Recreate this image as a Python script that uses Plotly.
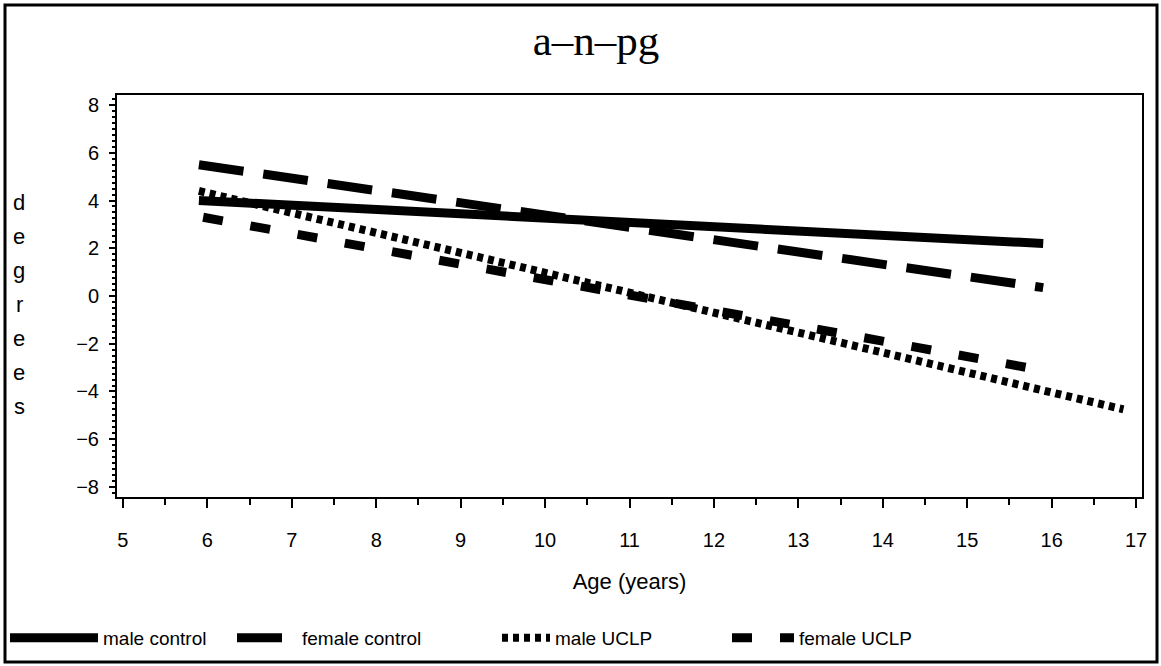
import plotly.graph_objects as go

# ---- data ----
series_names = ["male control", "female control", "male UCLP", "female UCLP"]
age_male_control = [5.9, 15.9]
deg_male_control = [4.0, 2.2]
age_female_control = [5.9, 15.9]
deg_female_control = [5.5, 0.35]
age_male_uclp = [5.9, 16.85]
deg_male_uclp = [4.4, -4.75]
age_female_uclp = [5.95, 15.95]
deg_female_uclp = [3.3, -3.15]

x_ticks = [5, 6, 7, 8, 9, 10, 11, 12, 13, 14, 15, 16, 17]
y_ticks = [-8, -6, -4, -2, 0, 2, 4, 6, 8]

# ---- layout geometry ----
W, H = 1161, 666
L, R, T, B = 117, 19, 95, 169
pw, ph = W - L - R, H - T - B

def px_x(px):
    return (px - L) / pw

def px_y(py):
    return (H - B - py) / ph

SANS = "Liberation Sans Narrow, Liberation Sans, Arial"
tickfont = dict(family=SANS, size=20, color="black")
legfont = dict(family=SANS, size=19, color="black")

fig = go.Figure()
styles = [
    dict(width=9, dash="solid"),
    dict(width=9, dash="45px,20px"),
    dict(width=8, dash="6px,5px"),
    dict(width=9, dash="20px,28px"),
]
data = [
    (age_male_control, deg_male_control),
    (age_female_control, deg_female_control),
    (age_male_uclp, deg_male_uclp),
    (age_female_uclp, deg_female_uclp),
]
legend_ids = ["legend", "legend2", "legend3", "legend4"]
legend_pos = [(5, 88), (232, 60), (497, 48), (727, 62)]  # (left px, sample width px)

for name, (xs, ys), st, lid in zip(series_names, data, styles, legend_ids):
    fig.add_trace(go.Scatter(x=xs, y=ys, mode="lines", name=name, legend=lid,
                             line=dict(color="black", **st)))

legends = {}
for lid, (lx, iw) in zip(legend_ids, legend_pos):
    legends[lid] = dict(orientation="h", x=px_x(lx), xanchor="left", y=px_y(638),
                        yanchor="middle", font=legfont, bgcolor="rgba(0,0,0,0)",
                        itemwidth=iw)

fig.update_layout(
    width=W, height=H,
    margin=dict(l=L, r=R, t=T, b=B, autoexpand=False),
    paper_bgcolor="white", plot_bgcolor="white",
    title=dict(text="a\u2013n\u2013pg", x=596 / W, xref="container", xanchor="center",
               y=1 - 40 / H, yref="container", yanchor="middle",
               font=dict(family="Liberation Serif, Times New Roman", size=43, color="black")),
    xaxis=dict(range=[4.93, 17.07], tickvals=x_ticks, ticks="outside", ticklen=9,
               tickwidth=2, tickcolor="black", showline=True, linecolor="black",
               linewidth=2, mirror=True, showgrid=False, zeroline=False,
               tickfont=tickfont, ticklabelstandoff=15, automargin=False,
               minor=dict(dtick=0.5, ticks="outside", ticklen=6, tickwidth=2, tickcolor="black"),
               title=dict(text="Age (years)", standoff=24,
                          font=dict(family=SANS, size=22, color="black"))),
    yaxis=dict(range=[-8.42, 8.42], tickvals=y_ticks, ticks="outside", ticklen=6,
               tickwidth=2, tickcolor="black", showline=True, linecolor="black",
               linewidth=2, mirror=True, showgrid=False, zeroline=False,
               tickfont=tickfont, ticklabelstandoff=6, automargin=False,
               minor=dict(dtick=0.25, ticks="outside", ticklen=3, tickwidth=1.5, tickcolor="black")),
    showlegend=True,
    **legends,
)

# stacked y-axis title letters
for i, ch in enumerate("degrees"):
    fig.add_annotation(text=ch, x=px_x(19), y=px_y(202 + i * 34), xref="paper", yref="paper",
                       showarrow=False, xanchor="center", yanchor="middle",
                       font=dict(family=SANS, size=22, color="black"))

# outer frame
fig.add_shape(type="rect", xref="paper", yref="paper",
              x0=px_x(5), x1=px_x(1157), y0=px_y(662), y1=px_y(5),
              line=dict(color="black", width=3), layer="below")

fig.write_html("out.html", config={"displayModeBar": False},
               post_script="document.body.style.margin='0';")
